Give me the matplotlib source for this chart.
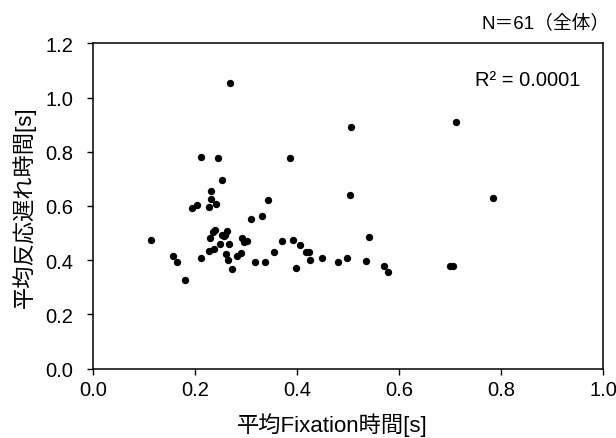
import matplotlib
matplotlib.use('Agg')
import matplotlib.pyplot as plt

plt.rcParams['font.family'] = ['Liberation Sans', 'Noto Sans CJK JP']

# mean fixation time [s] vs mean response delay [s], 61 subjects
fixation = [0.269, 0.211, 0.246, 0.387, 0.252, 0.232, 0.232, 0.241, 0.203, 0.194,
            0.227, 0.344, 0.332, 0.310, 0.113, 0.240, 0.236, 0.263, 0.253, 0.259,
            0.229, 0.292, 0.296, 0.301, 0.370, 0.393, 0.406, 0.249, 0.267, 0.238,
            0.227, 0.156, 0.165, 0.211, 0.260, 0.264, 0.282, 0.290, 0.318, 0.338,
            0.355, 0.398, 0.273, 0.180, 0.506, 0.712, 0.504, 0.784, 0.417, 0.424,
            0.426, 0.449, 0.481, 0.498, 0.535, 0.541, 0.570, 0.578, 0.700, 0.706,
            0.256]
delay = [1.055, 0.782, 0.776, 0.776, 0.695, 0.656, 0.624, 0.607, 0.602, 0.591,
         0.597, 0.623, 0.564, 0.551, 0.475, 0.513, 0.505, 0.508, 0.492, 0.492,
         0.481, 0.483, 0.468, 0.471, 0.470, 0.475, 0.455, 0.459, 0.459, 0.443,
         0.433, 0.417, 0.393, 0.409, 0.423, 0.399, 0.417, 0.427, 0.393, 0.393,
         0.432, 0.372, 0.366, 0.328, 0.891, 0.908, 0.639, 0.629, 0.432, 0.432,
         0.399, 0.409, 0.393, 0.409, 0.398, 0.486, 0.377, 0.356, 0.377, 0.377,
         0.490]

xticks = [0.0, 0.2, 0.4, 0.6, 0.8, 1.0]
yticks = [0.0, 0.2, 0.4, 0.6, 0.8, 1.0, 1.2]

fig = plt.figure(figsize=(6.16, 4.39), dpi=100)
ax = fig.add_axes([0.151, 0.158, 0.828, 0.741])

ax.scatter(fixation, delay, s=28, color='black', linewidths=0, zorder=3)

ax.set_xlim(0, 1.0)
ax.set_ylim(0, 1.2)
ax.set_xticks(xticks)
ax.set_yticks(yticks)
ax.set_xticklabels(['%.1f' % t for t in xticks])
ax.set_yticklabels(['%.1f' % t for t in yticks])
ax.tick_params(direction='out', length=4, width=1, labelsize=14.5)
ax.tick_params(axis='x', pad=4)
ax.tick_params(axis='y', pad=10)
for s in ax.spines.values():
    s.set_linewidth(1.1)

ax.set_xlabel('平均Fixation時間[s]', fontsize=16, labelpad=6)
ax.xaxis.set_label_coords(0.469, -0.135)
ax.set_ylabel('平均反応遅れ時間[s]', fontsize=16, labelpad=7)

ax.text(0.955, 0.89, 'R² = 0.0001', transform=ax.transAxes,
        ha='right', va='center', fontsize=14.5)
fig.text(0.99, 0.948, 'N＝61（全体）', ha='right', va='center', fontsize=13.5)

plt.savefig('out.png', dpi=100)
